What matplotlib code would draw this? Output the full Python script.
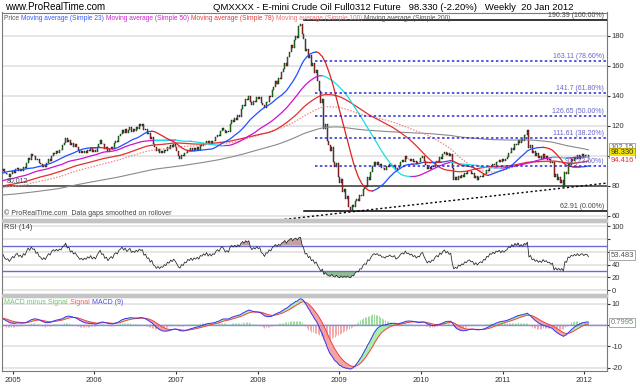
import matplotlib

matplotlib.use("Agg")
import matplotlib.pyplot as plt  # noqa: E402
import matplotlib.dates as mdates  # noqa: E402
from matplotlib.patches import Rectangle  # noqa: E402
import numpy as np  # noqa: E402
import pandas as pd  # noqa: E402

plt.rcParams["font.family"] = ["Liberation Sans", "DejaVu Sans"]

# warm-up weekly closes (Jan 2001 - Nov 2004), only feed the averages / RSI / MACD
warmup_close = [
    72.5, 73, 73.5, 72.5, 72.8, 71.5, 70.5, 70, 69.5, 69, 69.5, 70, 71, 70.5, 71.5,
    71.5, 72, 71, 71, 70.5, 70.5, 70, 69, 68.5, 69, 69.5, 69.5, 69, 70, 70.5, 70.5,
    70, 70, 70, 72, 69.5, 66, 65, 65, 64.5, 64.5, 63.5, 63.5, 62, 62, 62.5, 62, 62,
    62.5, 62.8,
    62.5, 62.5, 62.5, 63, 63, 63.5, 64, 64.5, 66, 67, 68.5, 68.5, 69.5, 69.5, 68.5,
    69, 69, 69.5, 70, 71, 70.5, 69.5, 68.5, 68, 68.5, 69.5, 70, 70.5, 70, 70.5, 70.5,
    71, 72, 72.5, 72.5, 72.5, 73, 73, 73.5, 72.5, 71.5, 71.5, 70.5, 69.5, 69, 69, 70,
    70.5, 71.5, 72.5, 74, 74.5,
    75, 76, 76.5, 76.5, 77, 78, 78.5, 79, 80, 80, 79.5, 75, 71, 71, 71, 71, 70, 70,
    71, 72, 72.5, 73, 73.5, 74, 73.5, 73, 73.5, 74, 74, 74, 75, 75, 75, 74.5, 74.5,
    72, 71, 71.5, 72, 73.5, 73.5, 72.5, 72.5, 72.5, 74, 74, 75.5, 73.5, 75, 75.5, 76,
    75.5,
    76.5, 77, 78, 78, 76.5, 76.5, 77, 78, 79, 80, 79, 81, 78.5, 77.5, 80, 80, 81, 80.5,
    82.5, 84, 84, 82.5, 81, 81, 81.5, 80.5, 82, 83, 84.5, 84, 86, 87, 89, 90, 86, 87,
    86, 88.5, 91, 93, 95, 97, 98.5, 94.5, 92, 90,
]

# weekly closes, 19 Nov 2004 .. 20 Jan 2012 (back-adjusted continuous contract)
close = [
    91, 88.5, 87.5, 88, 86, 87.5, 89.5, 88.5, 91, 92, 90, 91, 89.5,
    92.5, 91.5, 95, 98.5, 97, 101, 99.5, 100, 97, 98, 95, 94.5, 92.5,
    94, 92.5, 95, 97.5, 96.5, 100, 102, 101, 103, 102, 104, 103.5, 107,
    108.5, 112, 109, 110.5, 107, 108.5, 106, 107.5, 105.5, 104, 102, 103, 101.5,
    103, 102, 104, 103, 105, 102.5, 104, 102.5, 105.5, 108, 110.5, 107.5, 108,
    104.5, 105.5, 102.5, 104.5, 106, 104.5, 108.5, 110, 109, 113, 114.5, 117, 115,
    117.5, 115, 117, 119, 116, 117.5, 116.5, 119, 118, 121, 120, 121, 117,
    118, 114.5, 115, 111, 112.5, 107.5, 106, 103, 104.5, 101.5, 103, 102, 104,
    103, 105.5, 104.5, 107, 105.5, 107.5, 105.5, 103, 99.5, 98, 100.5, 99.5, 102,
    101.5, 104, 103, 105, 103, 105, 104, 105.5, 104, 107, 106.5, 108.5, 107.5,
    110, 107.5, 109.5, 108, 110, 109.5, 112.5, 114, 113, 116.5, 118.5, 117, 115,
    116.5, 115.5, 121, 123.5, 122.5, 125, 124, 127, 126, 131, 134, 133, 138,
    137, 140, 135.5, 133.5, 136.5, 135.5, 139, 137.5, 139, 135, 134, 131.5, 136,
    135.5, 140, 139, 144, 146, 149.5, 148, 152, 151, 156, 158, 162, 160,
    166, 169, 173.5, 171.5, 177, 180, 178.5, 186.5, 188, 181, 177.5, 170, 171,
    165, 167, 160, 161.5, 155, 157, 150, 143, 135, 138, 118, 121, 110,
    107, 103, 106, 96, 92.5, 95, 86, 82, 84.5, 76, 78, 71, 73,
    66, 64, 67, 65.5, 69.5, 71, 70, 74, 73, 78, 80, 79, 85.5,
    84, 89, 93, 95.5, 94, 96, 93.5, 94.5, 91.5, 92, 90.5, 93, 92.5,
    94.5, 93, 92.5, 94, 90.5, 91.5, 93, 95.5, 97, 96, 99.5, 97.5, 98,
    96.5, 97.5, 95.5, 96.5, 94.5, 96, 95.5, 98.5, 99.5, 96.5, 94, 91, 92.5,
    91, 93, 92.5, 95, 96.5, 95.5, 99, 98, 101, 102.5, 100.5, 102, 100,
    101, 92, 84, 85.5, 83.5, 86.5, 85, 87, 86, 88.5, 87.5, 89.5, 90,
    88, 88.5, 85, 86.5, 84, 85.5, 86.5, 85.5, 88, 87.5, 90.5, 90, 93,
    92.5, 94.5, 93.5, 96, 95.5, 97, 95.5, 97.5, 96.5, 98, 99, 102, 101.5,
    105, 104, 108, 107, 110.5, 108.5, 111, 110, 114, 113.5, 117, 105, 107,
    102, 103, 100, 101.5, 98.5, 100, 98, 101, 98.5, 99.5, 97, 97.5, 95,
    96, 86, 88, 84, 85.5, 82, 83.5, 79, 89, 87.5, 95, 94, 97.5,
    96.5, 99, 97.5, 100.5, 98, 100, 101, 99, 100.5, 100.5, 98.33,
]

fib_high = 190.39
fib_low = 62.91
fib_ratios = [0.236, 0.382, 0.5, 0.618, 0.786]
fib_texts = ["93 (23.60%)", "111.61 (38.20%)", "126.65 (50.00%)", "141.7 (61.80%)", "163.11 (78.60%)"]
support_level = 80.012
trend_dates = ["2009-02-13", "2011-10-07"]
trend_vals = [62.4, 78.6]
years = list(range(2005, 2013))
price_ticks = [60, 80, 100, 120, 140, 160, 180]
price_ticklabels = ["60", "80", "", "120", "140", "160", "180"]
rsi_ticks = [0, 20, 40, 60, 80, 100]
rsi_ticklabels = ["0", "20", "40", "", "", "100"]
macd_ticks = [-20, -10, 0, 10]
macd_ticklabels = ["-20", "-10", "", "10"]
price_boxes = ["102.15", "98.330", "94.416"]
price_box_vals = [102.15, 98.33, 94.416]
last_rsi = "53.483"
last_macd = "0.7995"

# ---- indicators -------------------------------------------------------------
allc = pd.Series(warmup_close + close, dtype=float)
dates = pd.date_range(end="2012-01-20", periods=len(allc), freq="W-FRI")
allc.index = dates
opens = allc.shift(1)

smas = {p: allc.rolling(p, min_periods=1).mean() for p in (23, 50, 78, 100, 200)}

delta = allc.diff()
gain = delta.clip(lower=0).ewm(alpha=1 / 14, adjust=False).mean()
loss = (-delta.clip(upper=0)).ewm(alpha=1 / 14, adjust=False).mean()
rsi = 100 - 100 / (1 + gain / loss)

macd = allc.ewm(span=12, adjust=False).mean() - allc.ewm(span=26, adjust=False).mean()
signal = macd.ewm(span=9, adjust=False).mean()
hist = macd - signal

vis = slice(len(warmup_close), None)
x = mdates.date2num(dates[vis])
c = allc[vis].values
o = opens[vis].values

# ---- figure -----------------------------------------------------------------
W, H = 640, 384
fig = plt.figure(figsize=(6.4, 3.84), dpi=100)
L, R = 2 / W, 607 / W


def panel(top_px, bot_px):
    return fig.add_axes([L, 1 - bot_px / H, R - L, (bot_px - top_px) / H])


ax = panel(12.5, 219)
ax_r = panel(222, 294)
ax_m = panel(297, 371)

xmin = mdates.date2num(pd.Timestamp("2004-11-14"))
xmax = mdates.date2num(pd.Timestamp("2012-04-12"))
for a in (ax, ax_r, ax_m):
    a.set_xlim(xmin, xmax)
    a.yaxis.tick_right()
    a.tick_params(axis="y", labelsize=5.5, length=2, pad=1.5, colors="#333333")
    a.tick_params(axis="x", length=0, labelbottom=False)
    for sp in a.spines.values():
        sp.set_color("#7a7a7a")
        sp.set_linewidth(0.8)
    a.set_axisbelow(True)
    a.yaxis.grid(True, color="#e4e4e4", lw=1.3)

# gray separators between panels
for y0, y1 in ((219, 222), (294, 297)):
    fig.patches.append(Rectangle((L, 1 - y1 / H), R - L, (y1 - y0) / H,
                                 transform=fig.transFigure, color="#c4c4c4", zorder=0))

# ---- price panel ------------------------------------------------------------
ax.set_ylim(57.8, 195.5)
ax.set_yticks(price_ticks)
ax.set_yticklabels(price_ticklabels)

up = c >= o
ax.bar(x[up], (c - o)[up], bottom=o[up], width=4.5, color="#1fa01f",
       edgecolor="#111111", linewidth=0.3, zorder=3)
ax.bar(x[~up], (c - o)[~up], bottom=o[~up], width=4.5, color="#d42a2a",
       edgecolor="#111111", linewidth=0.3, zorder=3)


def slope_line(a, s, up_col, dn_col, **kw):
    d = s.diff()
    rising = (d >= 0) | (d.shift(-1) >= 0)
    falling = (d < 0) | (d.shift(-1) < 0)
    a.plot(x, s.where(rising).values, color=up_col, **kw)
    a.plot(x, s.where(falling).values, color=dn_col, **kw)


ax.plot(x, smas[200][vis].values, color="#8a8a8a", lw=0.8, zorder=4)
ax.plot(x, smas[100][vis].values, color="#f08a8a", lw=0.9, ls=(0, (1.2, 1.2)), zorder=4)
ax.plot(x, smas[78][vis].values, color="#e03030", lw=0.9, zorder=4)
slope_line(ax, smas[50][vis], "#d010d0", "#10e0e8", lw=0.9, zorder=5)
slope_line(ax, smas[23][vis], "#2050ff", "#e02020", lw=0.9, zorder=5)

# support line and trend line
ax.axhline(support_level, color="#3a3a3a", lw=1.1, zorder=2)
ax.text(0.008, support_level + 0.6, "80.012", transform=ax.get_yaxis_transform(),
        fontsize=5, color="#444444", va="bottom", zorder=6)
td = mdates.date2num(pd.to_datetime(trend_dates))
slope = (trend_vals[1] - trend_vals[0]) / (td[1] - td[0])
tx = np.array([mdates.date2num(pd.Timestamp("2008-05-01")), xmax])
ax.plot(tx, trend_vals[0] + slope * (tx - td[0]), color="black", lw=1.0,
        ls=(0, (1.5, 1.8)), zorder=6)

# fibonacci retracement
x_black = mdates.date2num(pd.Timestamp("2008-07-25"))
x_fib = mdates.date2num(pd.Timestamp("2008-09-12"))
for lvl in (fib_high, fib_low):
    ax.plot([x_black, xmax], [lvl, lvl], color="black", lw=1.1, zorder=6)
ax.text(0.995, fib_high + 0.8, "190.39 (100.00%)", transform=ax.get_yaxis_transform(),
        ha="right", va="bottom", fontsize=5, color="#444444")
ax.text(0.995, fib_low + 0.8, "62.91 (0.00%)", transform=ax.get_yaxis_transform(),
        ha="right", va="bottom", fontsize=5, color="#444444")
for r, txt in zip(fib_ratios, fib_texts):
    lvl = fib_low + r * (fib_high - fib_low)
    ax.plot([x_fib, xmax], [lvl, lvl], color="#2a2ad6", lw=1.1, ls=(0, (1.6, 1.6)), zorder=6)
    ax.text(0.995, lvl + 0.8, txt, transform=ax.get_yaxis_transform(),
            ha="right", va="bottom", fontsize=5, color="#6666cc", zorder=7)


def chain(a, pieces, px, py, size):
    t = a.text(px, py, pieces[0][0], color=pieces[0][1], transform=a.transAxes,
               fontsize=size, va="top", ha="left", zorder=8)
    for txt, col in pieces[1:]:
        t = a.annotate(txt, xy=(1, 0), xycoords=t, color=col, fontsize=size,
                       va="bottom", ha="left", zorder=8)
    return t


chain(ax, [("Price ", "#555555"),
           ("Moving average (Simple 23) ", "#3a5cff"),
           ("Moving average (Simple 50) ", "#d020d0"),
           ("Moving average (Simple 78) ", "#e04040"),
           ("Moving average (Simple 100) ", "#f07878"),
           ("Moving average (Simple 200)", "#555555")], 0.004, 0.99, 4.8)
ax.text(0.004, 0.012, "\u00a9 ProRealTime.com  Data gaps smoothed on rollover",
        transform=ax.transAxes, fontsize=5, color="#444444", va="bottom")

# right-hand value boxes
box_offsets = [3.4, 3.5, 2.4]
box_styles = [
    dict(color="#555555", bbox=dict(boxstyle="square,pad=0.15", fc="white", ec="#9a9a9a", lw=0.6)),
    dict(color="#333333", bbox=dict(boxstyle="square,pad=0.15", fc="#f2e400", ec="#b0a000", lw=0.6)),
    dict(color="#e03030", bbox=dict(boxstyle="square,pad=0.1", fc="white", ec="none")),
]
for txt, v, off, st in zip(price_boxes, price_box_vals, box_offsets, box_styles):
    ax.text(1.006, v + off, txt, transform=ax.get_yaxis_transform(), fontsize=5.5,
            va="center", ha="left", clip_on=False, zorder=9, **st)

# ---- RSI panel --------------------------------------------------------------
rv = rsi[vis].values
ax_r.set_ylim(-6, 107)
ax_r.set_yticks(rsi_ticks)
ax_r.set_yticklabels(rsi_ticklabels)
ax_r.fill_between(x, 70, rv, where=rv > 70, interpolate=True, color="#c4a0a0", lw=0)
ax_r.fill_between(x, 30, rv, where=rv < 30, interpolate=True, color="#8fbf8f", lw=0)
ax_r.axhline(70, color="#6b6bdd", lw=1.0)
ax_r.axhline(30, color="#6b6bdd", lw=1.0)
ax_r.plot(x, rv, color="#222222", lw=0.55)
ax_r.text(0.004, 0.97, "RSI (14)", transform=ax_r.transAxes, fontsize=5.5,
          color="#444444", va="top")
ax_r.text(1.006, 55, last_rsi, transform=ax_r.get_yaxis_transform(), fontsize=5.5,
          color="#555555", va="center", ha="left", clip_on=False, zorder=9,
          bbox=dict(boxstyle="square,pad=0.15", fc="white", ec="#9a9a9a", lw=0.6))

# ---- MACD panel -------------------------------------------------------------
mv = macd[vis].values
sv = signal[vis].values
hv = hist[vis].values
ax_m.set_ylim(-21.6, 13.2)
ax_m.set_yticks(macd_ticks)
ax_m.set_yticklabels(macd_ticklabels)
ax_m.vlines(x[hv >= 0], 0, hv[hv >= 0], color="#88d888", lw=0.6)
ax_m.vlines(x[hv < 0], 0, hv[hv < 0], color="#f09a9a", lw=0.6)
ax_m.axhline(0, color="#8c8cf0", lw=1.0)
ax_m.fill_between(x, mv, sv, where=mv >= sv, interpolate=True, color="#a8f0a8", lw=0)
ax_m.fill_between(x, mv, sv, where=mv < sv, interpolate=True, color="#f4a4a4", lw=0)
ax_m.plot(x, sv, color="#f04040", lw=0.7)
ax_m.plot(x, mv, color="#3434f0", lw=0.7)
chain(ax_m, [("MACD minus Signal ", "#6cc86c"), ("Signal ", "#f06060"),
             ("MACD (9)", "#5050e0")], 0.004, 0.97, 5)
ax_m.text(1.006, 1.2, last_macd, transform=ax_m.get_yaxis_transform(), fontsize=5.5,
          color="#6a8a6a", va="center", ha="left", clip_on=False, zorder=9,
          bbox=dict(boxstyle="square,pad=0.15", fc="white", ec="#9a9a9a", lw=0.6))

ax_m.set_xticks(mdates.date2num(pd.to_datetime([f"{y}-01-01" for y in years])))
ax_m.set_xticklabels([str(y) for y in years])
ax_m.tick_params(axis="x", length=2.5, labelbottom=True, labelsize=5.5, pad=1.5,
                 colors="#333333")

# ---- titles -----------------------------------------------------------------
fig.text(5 / W, 1 - 7.5 / H, "www.ProRealTime.com", fontsize=7, va="center", ha="left")
fig.text(213 / W, 1 - 7.5 / H,
         "QMXXXX - E-mini Crude Oil Full0312 Future   98.330 (-2.20%)   Weekly  20 Jan 2012",
         fontsize=6.8, va="center", ha="left")

fig.savefig("out.png", dpi=100)
